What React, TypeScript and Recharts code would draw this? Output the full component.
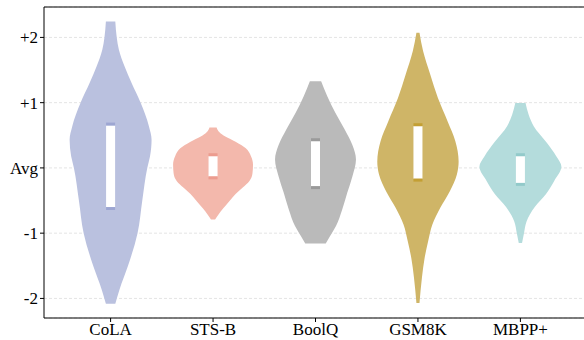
import { Area, CartesianGrid, ComposedChart, ReferenceLine, XAxis, YAxis } from "recharts";

const categories = ["CoLA", "STS-B", "BoolQ", "GSM8K", "MBPP+"];
const colors = ["#bac1df", "#f3b8ac", "#bababa", "#cfb567", "#b4dcdc"];
const capColors = ["#9da6d2", "#ec9c8f", "#9a9a9a", "#c39f34", "#92caca"];

// violin outlines: score levels (top to bottom) and half widths in category units
const colaLevels = [2.245, 2.0, 1.81, 1.56, 1.3, 1.0, 0.64, 0.43, 0.18, 0, -0.49, -1.0, -1.5, -1.86, -2.08];
const colaWidths = [0.046, 0.06, 0.081, 0.135, 0.205, 0.293, 0.374, 0.4, 0.385, 0.358, 0.31, 0.263, 0.17, 0.088, 0.046];

const stsbLevels = [0.62, 0.55, 0.48, 0.4, 0.3, 0.18, 0.05, -0.08, -0.2, -0.3, -0.4, -0.5, -0.62, -0.72, -0.79];
const stsbWidths = [0.035, 0.06, 0.12, 0.22, 0.32, 0.37, 0.39, 0.385, 0.355, 0.29, 0.22, 0.165, 0.1, 0.05, 0.02];

const boolqLevels = [1.33, 1.1, 0.84, 0.59, 0.35, 0.13, -0.13, -0.38, -0.64, -0.89, -1.05, -1.16];
const boolqWidths = [0.055, 0.115, 0.195, 0.285, 0.36, 0.395, 0.36, 0.31, 0.26, 0.2, 0.14, 0.1];

const gsmLevels = [2.07, 1.79, 1.43, 1.07, 0.71, 0.41, 0.1, -0.1, -0.36, -0.61, -0.87, -1.12, -1.38, -1.68, -2.07];
const gsmWidths = [0.015, 0.05, 0.12, 0.195, 0.29, 0.365, 0.397, 0.38, 0.31, 0.218, 0.14, 0.1, 0.065, 0.039, 0.015];

const mbppLevels = [0.995, 0.82, 0.64, 0.4, 0.18, 0.02, -0.2, -0.4, -0.6, -0.82, -1.0, -1.15];
const mbppWidths = [0.05, 0.08, 0.13, 0.25, 0.35, 0.4, 0.33, 0.25, 0.14, 0.06, 0.035, 0.016];

// inner boxes (quartiles)
const boxQ1 = [-0.6, -0.13, -0.28, -0.165, -0.23];
const boxQ3 = [0.65, 0.18, 0.41, 0.64, 0.18];

const yTickLabels: Record<number, string> = { 2: "+2", 1: "+1", 0: "Avg", "-1": "-1", "-2": "-2" };

const violins = [
  [colaLevels, colaWidths],
  [stsbLevels, stsbWidths],
  [boolqLevels, boolqWidths],
  [gsmLevels, gsmWidths],
  [mbppLevels, mbppWidths],
];

const violinData = violins.map(([levels, widths], i) =>
  levels.map((y, k) => ({ y, span: [i - widths[k], i + widths[k]] }))
);

const BOX_HALF = 0.044;
const CAP = 0.045;

const boxData = categories.map((_, i) => [
  { y: boxQ3[i], span: [i - BOX_HALF, i + BOX_HALF] },
  { y: boxQ1[i], span: [i - BOX_HALF, i + BOX_HALF] },
]);
const topCapData = categories.map((_, i) => [
  { y: boxQ3[i] + CAP, span: [i - BOX_HALF, i + BOX_HALF] },
  { y: boxQ3[i], span: [i - BOX_HALF, i + BOX_HALF] },
]);
const bottomCapData = categories.map((_, i) => [
  { y: boxQ1[i], span: [i - BOX_HALF, i + BOX_HALF] },
  { y: boxQ1[i] - CAP, span: [i - BOX_HALF, i + BOX_HALF] },
]);

const FONT = "'Liberation Serif', 'Times New Roman', serif";
const font = { fontFamily: FONT, fontSize: 17, fill: "#000" };
const Y_MAX = 2.466;

export default function App() {
  return (
    <div
      style={{
        position: "absolute",
        left: 0,
        top: 0,
        width: 584,
        height: 340,
        overflow: "hidden",
        background: "#fff",
        fontFamily: FONT,
      }}
    >
      {/* axes box runs a few px past the right edge, like the cropped original */}
      <ComposedChart
        width={587}
        height={340}
        layout="vertical"
        margin={{ top: 7, right: 0, bottom: 0, left: 0 }}
      >
        <CartesianGrid vertical={false} stroke="#e4e4e4" strokeDasharray="3 2" />
        <XAxis
          type="number"
          dataKey="span"
          domain={[-0.65, 4.65]}
          ticks={[0, 1, 2, 3, 4]}
          tickFormatter={(v: number) => categories[v] ?? ""}
          allowDataOverflow
          height={22}
          tickSize={4}
          tickMargin={1}
          tick={font}
          axisLine={{ stroke: "#000" }}
          tickLine={{ stroke: "#000" }}
        />
        <YAxis
          type="number"
          dataKey="y"
          reversed
          domain={[-2.3, Y_MAX]}
          ticks={[-2, -1, 0, 1, 2]}
          tickFormatter={(v: number) => yTickLabels[v] ?? String(v)}
          allowDataOverflow
          width={44}
          tickSize={4}
          tickMargin={2}
          tick={font}
          axisLine={{ stroke: "#000" }}
          tickLine={{ stroke: "#000" }}
        />
        <ReferenceLine y={Y_MAX} stroke="#000" strokeWidth={1} ifOverflow="visible" />
        {violinData.map((d, i) => (
          <Area
            key={"v" + i}
            data={d}
            dataKey="span"
            type="monotone"
            fill={colors[i]}
            fillOpacity={1}
            stroke="none"
            dot={false}
            activeDot={false}
            isAnimationActive={false}
          />
        ))}
        {boxData.map((d, i) => (
          <Area
            key={"b" + i}
            data={d}
            dataKey="span"
            type="linear"
            fill="#fff"
            fillOpacity={1}
            stroke="none"
            dot={false}
            activeDot={false}
            isAnimationActive={false}
          />
        ))}
        {topCapData.map((d, i) => (
          <Area
            key={"t" + i}
            data={d}
            dataKey="span"
            type="linear"
            fill={capColors[i]}
            fillOpacity={1}
            stroke="none"
            dot={false}
            activeDot={false}
            isAnimationActive={false}
          />
        ))}
        {bottomCapData.map((d, i) => (
          <Area
            key={"c" + i}
            data={d}
            dataKey="span"
            type="linear"
            fill={capColors[i]}
            fillOpacity={1}
            stroke="none"
            dot={false}
            activeDot={false}
            isAnimationActive={false}
          />
        ))}
      </ComposedChart>
    </div>
  );
}
